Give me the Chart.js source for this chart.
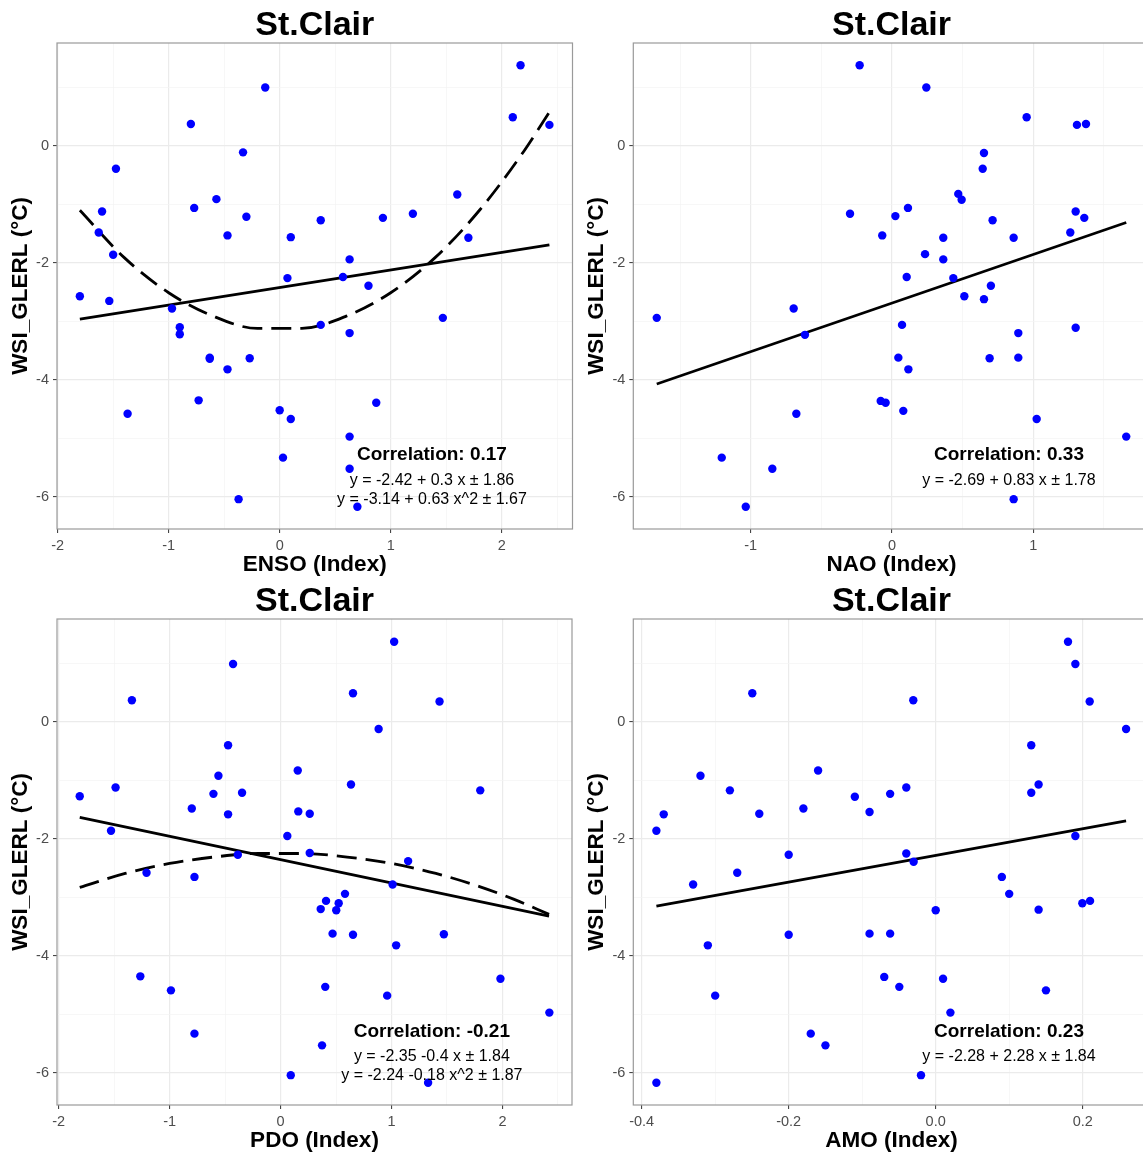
<!DOCTYPE html>
<html><head><meta charset="utf-8">
<script src="https://cdn.jsdelivr.net/npm/chart.js@4.4.1/dist/chart.umd.min.js"></script>
<style>
html,body{margin:0;padding:0;background:#fff;overflow:hidden;width:1143px;height:1156px;position:relative;}
canvas{position:absolute;}
</style></head><body>
<canvas id="c1"></canvas><canvas id="c2"></canvas><canvas id="c3"></canvas><canvas id="c4"></canvas>
<script>
// ---------------- DATA ----------------
const panelTitle = 'St.Clair';
const yAxisTitle = 'WSI_GLERL (°C)';
const yMajorTicks = [-6, -4, -2, 0];
const yMinorTicks = [-5, -3, -1, 1];
const yTickLabels = ['-6', '-4', '-2', '0'];

// ENSO panel
const ensoX = [-0.13,-0.80,-0.33,-1.475,-0.57,-0.77,-1.60,-0.30,-1.63,-0.47,0.10,-1.50,0.07,-1.80,-1.535,-0.97,-0.90,-0.90,-0.63,-0.27,-0.63,-0.47,-0.73,-1.37,0.00,0.10,0.03,-0.37,2.17,2.10,2.43,1.60,0.37,0.93,1.20,1.70,0.63,0.57,0.80,0.37,0.63,1.47,0.87,0.63,0.63,0.70];
const ensoWsi = [1.00,0.375,-0.11,-0.39,-0.91,-1.06,-1.12,-1.21,-1.48,-1.53,-1.56,-1.86,-2.26,-2.57,-2.65,-2.78,-3.10,-3.22,-3.62,-3.63,-3.64,-3.82,-4.35,-4.58,-4.52,-4.67,-5.33,-6.04,1.38,0.49,0.36,-0.83,-1.27,-1.23,-1.16,-1.57,-1.94,-2.24,-2.39,-3.06,-3.20,-2.94,-4.39,-4.97,-5.52,-6.17];
const ensoLinX = [-1.80, 2.43];
const ensoLinY = [-2.96, -1.69];
const ensoQuadX = [-1.80,-1.40,-1.00,-0.60,-0.20,0.20,0.60,1.00,1.40,1.80,2.20,2.43];
const ensoQuadY = [-1.10,-1.91,-2.51,-2.91,-3.12,-3.12,-2.91,-2.51,-1.91,-1.10,-0.09,0.58];
const ensoXTicks = [-2, -1, 0, 1, 2];
const ensoXMinor = [-1.5, -0.5, 0.5, 1.5, 2.5];
const ensoXLabels = ['-2', '-1', '0', '1', '2'];
const ensoNotes = ['Correlation: 0.17', 'y = -2.42 + 0.3 x ± 1.86', 'y = -3.14 + 0.63 x^2 ± 1.67'];

// NAO panel
const naoX = [-0.229,-0.297,0.243,0.953,1.309,1.373,0.651,0.642,0.469,0.493,0.113,0.024,-0.069,0.712,1.30,1.361,1.262,0.861,0.363,0.234,0.363,0.104,0.434,0.70,0.512,0.651,0.071,0.894,1.30,0.045,0.691,0.894,0.116,-0.08,-0.045,0.08,1.024,1.658,0.861,-1.665,-0.696,-0.616,-0.677,-1.205,-0.847,-1.035];
const naoWsi = [1.38,-1.16,1.00,0.49,0.36,0.375,-0.12,-0.39,-0.82,-0.92,-1.06,-1.20,-1.53,-1.27,-1.12,-1.23,-1.48,-1.57,-1.57,-1.85,-1.94,-2.24,-2.26,-2.39,-2.57,-2.62,-3.06,-3.20,-3.11,-3.62,-3.63,-3.62,-3.82,-4.36,-4.39,-4.53,-4.67,-4.97,-6.04,-2.94,-2.78,-3.23,-4.58,-5.33,-5.52,-6.17];
const naoLinX = [-1.665, 1.658];
const naoLinY = [-4.07, -1.31];
const naoXTicks = [-1, 0, 1];
const naoXMinor = [-1.5, -0.5, 0.5, 1.5];
const naoXLabels = ['-1', '0', '1'];
const naoNotes = ['Correlation: 0.33', 'y = -2.69 + 0.83 x ± 1.78'];

// PDO panel
const pdoX = [-0.428,-1.34,-0.473,-0.56,0.155,-1.487,-1.81,-0.605,-0.347,-0.80,-0.473,0.16,0.263,-1.528,0.061,-0.385,0.263,-1.208,-0.776,-1.264,-0.988,-0.776,0.092,1.024,0.653,1.433,0.884,0.635,1.80,1.15,1.01,0.41,0.581,0.524,0.362,0.502,0.469,0.653,1.472,1.042,0.403,0.961,1.982,2.423,0.374,1.33];
const pdoWsi = [0.99,0.37,-0.40,-0.92,-0.83,-1.12,-1.27,-1.23,-1.21,-1.48,-1.58,-1.53,-1.57,-1.86,-1.95,-2.27,-2.24,-2.58,-2.65,-4.35,-4.59,-5.33,-6.04,1.37,0.49,0.35,-0.12,-1.07,-1.17,-2.38,-2.78,-3.06,-2.94,-3.10,-3.20,-3.22,-3.62,-3.64,-3.63,-3.82,-4.53,-4.68,-4.39,-4.97,-5.53,-6.17];
const pdoLinX = [-1.81, 2.42];
const pdoLinY = [-1.63, -3.32];
const pdoQuadX = [-1.81,-1.40,-1.00,-0.60,-0.20,0.20,0.60,1.00,1.40,1.80,2.10,2.42];
const pdoQuadY = [-2.83,-2.59,-2.42,-2.31,-2.25,-2.25,-2.31,-2.42,-2.59,-2.82,-3.03,-3.29];
const pdoXTicks = [-2, -1, 0, 1, 2];
const pdoXMinor = [-1.5, -0.5, 0.5, 1.5, 2.5];
const pdoXLabels = ['-2', '-1', '0', '1', '2'];
const pdoNotes = ['Correlation: -0.21', 'y = -2.35 -0.4 x ± 1.84', 'y = -2.24 -0.18 x^2 ± 1.87'];

// AMO panel
const amoX = [-0.2495,-0.320,-0.280,-0.370,-0.380,-0.240,-0.180,-0.160,-0.110,-0.090,-0.062,-0.200,-0.270,-0.330,-0.200,-0.090,-0.062,-0.310,-0.300,-0.070,-0.170,-0.150,-0.380,0.180,0.190,-0.0305,0.2095,0.259,0.130,0.140,0.130,-0.040,0.190,-0.040,-0.030,0.090,0.100,0.000,0.140,0.1995,0.210,0.010,-0.0495,0.150,0.020,-0.020];
const amoWsi = [0.49,-0.92,-1.17,-1.58,-1.86,-1.57,-1.48,-0.83,-1.28,-1.54,-1.23,-2.27,-2.58,-2.78,-3.64,-3.62,-3.62,-3.82,-4.68,-4.36,-5.33,-5.53,-6.17,1.37,0.99,0.37,0.35,-0.12,-0.40,-1.07,-1.21,-1.12,-1.95,-2.25,-2.39,-2.65,-2.94,-3.22,-3.21,-3.10,-3.06,-4.39,-4.53,-4.59,-4.97,-6.04];
const amoLinX = [-0.380, 0.259];
const amoLinY = [-3.15, -1.69];
const amoXTicks = [-0.4, -0.2, 0, 0.2];
const amoXMinor = [-0.3, -0.1, 0.1];
const amoXLabels = ['-0.4', '-0.2', '0.0', '0.2'];
const amoNotes = ['Correlation: 0.23', 'y = -2.28 + 2.28 x ± 1.84'];

// ---------------- RENDERING ----------------
const FONT = '"Liberation Sans", Arial, Helvetica, sans-serif';
const toXY = (xs, ys) => xs.map((x, i) => ({x, y: ys[i]}));

const deco = {
  id: 'deco',
  afterDraw(chart, args, o) {
    const {ctx, chartArea: a, scales} = chart;
    ctx.save();
    ctx.strokeStyle = '#9a9a9a';
    ctx.lineWidth = 1.2;
    ctx.strokeRect(a.left, a.top, a.right - a.left, a.bottom - a.top);
    ctx.fillStyle = '#000';
    ctx.textAlign = 'center';
    ctx.textBaseline = 'middle';
    ctx.font = 'bold 34px ' + FONT;
    ctx.fillText(o.title, (a.left + a.right) / 2, a.top - 17.5);
    const nx = scales.x.getPixelForValue(o.noteX);
    o.notes.forEach((t, i) => {
      ctx.font = (i === 0 ? 'bold 19px ' : '16px ') + FONT;
      ctx.fillText(t, nx, scales.y.getPixelForValue(o.noteY[i]) + 2.5);
    });
    ctx.restore();
  }
};

function axisCommon(major, minor, labels) {
  const isMajor = v => major.some(m => Math.abs(m - v) < 1e-9);
  return {
    type: 'linear',
    afterBuildTicks: s => { s.ticks = major.concat(minor).sort((p, q) => p - q).map(v => ({value: v})); },
    ticks: {
      autoSkip: false, maxRotation: 0, minRotation: 0,
      color: '#4d4d4d', font: {family: FONT, size: 14.5},
      callback: v => { const i = major.findIndex(m => Math.abs(m - v) < 1e-9); return i >= 0 ? labels[i] : ''; }
    },
    grid: {
      color: c => (c.tick && isMajor(c.tick.value)) ? '#ebebeb' : '#f3f3f3',
      lineWidth: c => (c.tick && isMajor(c.tick.value)) ? 1.2 : 0.7,
      tickColor: c => (c.tick && isMajor(c.tick.value)) ? '#333333' : 'rgba(0,0,0,0)',
      tickWidth: 1, tickLength: 4, drawTicks: true, drawOnChartArea: true
    },
    border: {display: false}
  };
}

function makePanel(p) {
  const cv = document.getElementById(p.id);
  cv.width = p.w; cv.height = 578;
  cv.style.left = p.left + 'px'; cv.style.top = p.top + 'px';
  cv.style.width = p.w + 'px'; cv.style.height = '578px';
  const datasets = [
    {type: 'scatter', data: toXY(p.px, p.py), pointRadius: 4.2, pointHoverRadius: 4.2,
     backgroundColor: '#0000ff', borderWidth: 0, order: 0},
    {type: 'line', data: toXY(p.linX, p.linY), borderColor: '#000', borderWidth: 2.8,
     pointRadius: 0, fill: false, tension: 0, order: 1}
  ];
  if (p.quadX) datasets.push({type: 'line', data: toXY(p.quadX, p.quadY), borderColor: '#000',
     borderWidth: 2.8, borderDash: [20, 9], pointRadius: 0, fill: false,
     cubicInterpolationMode: 'monotone', order: 1});
  const xs = axisCommon(p.xMajor, p.xMinor, p.xLabels);
  xs.min = p.xMin; xs.max = p.xMax; xs.position = 'bottom';
  xs.ticks.padding = 4;
  xs.title = {display: true, text: p.xTitle, color: '#000', font: {family: FONT, size: 22.5, weight: 'bold'}, padding: {top: 0, bottom: 0}};
  xs.afterFit = s => { s.height = 49; };
  const ys = axisCommon(yMajorTicks, yMinorTicks, yTickLabels);
  ys.min = -6.55; ys.max = 1.76; ys.position = 'left';
  ys.ticks.padding = 4;
  ys.title = {display: true, text: yAxisTitle, color: '#000', font: {family: FONT, size: 22.5, weight: 'bold'}, padding: {top: 7.5, bottom: 0}};
  ys.afterFit = s => { s.width = p.yw; };
  new Chart(cv, {
    data: {datasets},
    options: {
      responsive: false, animation: false, devicePixelRatio: 1,
      layout: {padding: {left: 0, top: 43, right: p.padR, bottom: 0}},
      scales: {x: xs, y: ys},
      plugins: {legend: {display: false}, tooltip: {enabled: false}, title: {display: false},
        deco: {title: panelTitle, notes: p.notes, noteX: p.noteX, noteY: p.noteY}}
    },
    plugins: [deco]
  });
}

makePanel({id: 'c1', left: 0, top: 0, w: 580, yw: 57, padR: 7.5,
  px: ensoX, py: ensoWsi, linX: ensoLinX, linY: ensoLinY, quadX: ensoQuadX, quadY: ensoQuadY,
  xMin: -2.006, xMax: 2.638, xMajor: ensoXTicks, xMinor: ensoXMinor, xLabels: ensoXLabels,
  xTitle: 'ENSO (Index)', notes: ensoNotes, noteX: 1.372, noteY: [-5.235, -5.678, -6.01]});
makePanel({id: 'c2', left: 576, top: 0, w: 581, yw: 57.3, padR: 7.3,
  px: naoX, py: naoWsi, linX: naoLinX, linY: naoLinY,
  xMin: -1.831, xMax: 1.824, xMajor: naoXTicks, xMinor: naoXMinor, xLabels: naoXLabels,
  xTitle: 'NAO (Index)', notes: naoNotes, noteX: 0.828, noteY: [-5.235, -5.678]});
makePanel({id: 'c3', left: 0, top: 576, w: 580, yw: 57, padR: 8,
  px: pdoX, py: pdoWsi, linX: pdoLinX, linY: pdoLinY, quadX: pdoQuadX, quadY: pdoQuadY,
  xMin: -2.015, xMax: 2.627, xMajor: pdoXTicks, xMinor: pdoXMinor, xLabels: pdoXLabels,
  xTitle: 'PDO (Index)', notes: pdoNotes, noteX: 1.364, noteY: [-5.248, -5.685, -6.01]});
makePanel({id: 'c4', left: 576, top: 576, w: 581, yw: 57.3, padR: 7.4,
  px: amoX, py: amoWsi, linX: amoLinX, linY: amoLinY,
  xMin: -0.4114, xMax: 0.291, xMajor: amoXTicks, xMinor: amoXMinor, xLabels: amoXLabels,
  xTitle: 'AMO (Index)', notes: amoNotes, noteX: 0.0997, noteY: [-5.248, -5.685]});
</script>
</body></html>
